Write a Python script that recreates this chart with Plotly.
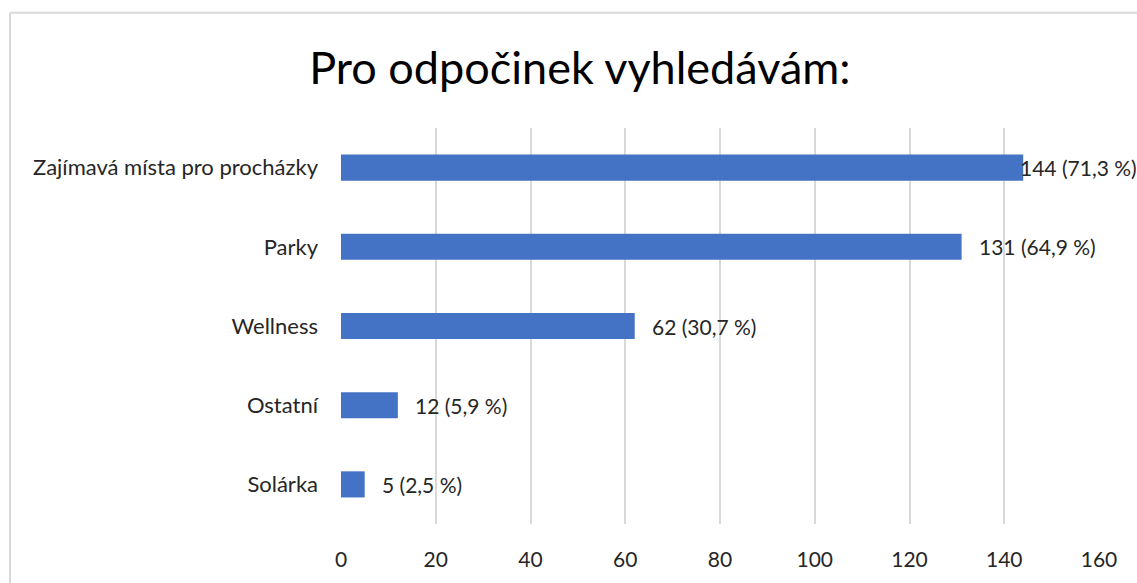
import plotly.graph_objects as go

# Data
kategorie = ["Zajímavá místa pro procházky", "Parky", "Wellness", "Ostatní", "Solárka"]
pocty = [144, 131, 62, 12, 5]
procenta = ["71,3", "64,9", "30,7", "5,9", "2,5"]
x_ticks = [0, 20, 40, 60, 80, 100, 120, 140, 160]

popisky = [f"{n} ({p} %)" for n, p in zip(pocty, procenta)]

fig = go.Figure(go.Bar(
    y=kategorie,
    x=pocty,
    orientation="h",
    marker=dict(color="#4472C4", line=dict(width=0)),
    width=0.33,
    hoverinfo="x+y",
))

# popisky dat (Excel posune ten nejdelší doleva, aby se vešel)
for i, (kat, n, txt) in enumerate(zip(kategorie, pocty, popisky)):
    fig.add_annotation(x=n, y=kat, text=txt, showarrow=False,
                       xanchor="left", yanchor="middle",
                       xshift=-5 if i == 0 else 15,
                       font=dict(size=21, color="#262626"))

# rámeček grafu (Excel chart area)
L, R, T, B = 341, 38, 128, 56
W, H = 1137, 583
pw, ph = W - L - R, H - T - B
fx = lambda px: (px - L) / pw
fy = lambda py: (H - B - py) / ph
fig.add_shape(type="line", xref="paper", yref="paper",
              x0=fx(10), x1=fx(1200), y0=fy(12), y1=fy(12),
              line=dict(color="#D9D9D9", width=2))
fig.add_shape(type="line", xref="paper", yref="paper",
              x0=fx(10), x1=fx(10), y0=fy(12), y1=fy(700),
              line=dict(color="#D9D9D9", width=2))

fig.update_layout(
    width=W, height=H,
    margin=dict(l=L, r=R, t=T, b=B),
    plot_bgcolor="white",
    paper_bgcolor="white",
    font=dict(family="Lato", color="#262626"),
    title=dict(text="Pro odpočinek vyhledávám:", x=0.51, xanchor="center",
               y=1 - 68 / H, yanchor="middle",
               font=dict(size=45, color="#000000")),
    showlegend=False,
    xaxis=dict(range=[0, 160], tickvals=x_ticks, showgrid=True,
               gridcolor="#D9D9D9", gridwidth=2, zeroline=False,
               showline=False, ticks="", tickfont=dict(size=21, color="#262626"),
               ticklabelstandoff=21),
    yaxis=dict(autorange="reversed", showgrid=False, zeroline=False,
               showline=False, ticks="",
               tickfont=dict(size=22, color="#262626"), ticklabelstandoff=22),
)

fig.write_html("out.html", config={"displayModeBar": False},
               post_script="document.body.style.margin='0px';")
